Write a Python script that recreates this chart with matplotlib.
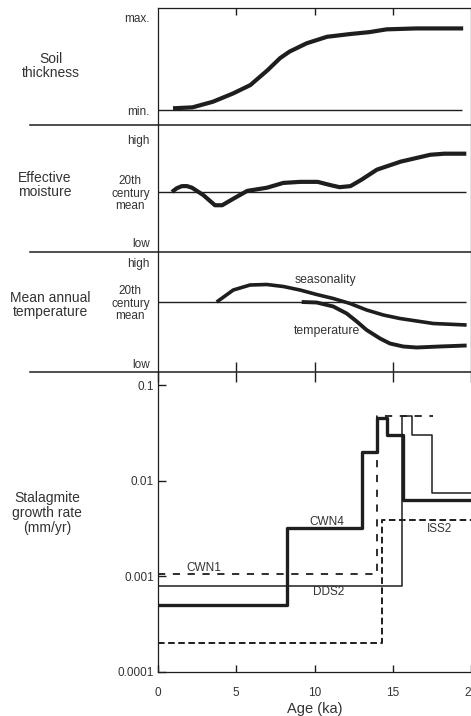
import matplotlib
matplotlib.use('Agg')
import matplotlib.pyplot as plt
from matplotlib.lines import Line2D
from matplotlib.ticker import FixedLocator, NullLocator

plt.rcParams['font.family'] = ['Liberation Sans', 'DejaVu Sans']

# --- data (age in ka) ---
soil_age = [0.96, 2.2, 3.5, 4.8, 5.9, 7.0, 7.8, 8.4, 9.5, 10.8, 12.3, 13.5, 14.6, 16.5, 19.5]
soil_val = [0.02, 0.03, 0.09, 0.18, 0.27, 0.43, 0.56, 0.63, 0.72, 0.79, 0.82, 0.84, 0.87, 0.88, 0.88]

moist_age = [0.89, 1.2, 1.53, 1.85, 2.17, 2.9, 3.64, 4.1, 4.8, 5.7, 6.97, 8.0, 9.1, 10.2,
             11.0, 11.6, 12.3, 13.0, 13.99, 15.5, 17.4, 18.3, 19.7]
moist_val = [0.0, 0.07, 0.11, 0.11, 0.08, -0.06, -0.25, -0.25, -0.13, 0.02, 0.08, 0.17, 0.19, 0.19,
             0.13, 0.09, 0.11, 0.23, 0.42, 0.57, 0.70, 0.72, 0.72]

season_age = [3.75, 4.81, 5.88, 6.95, 8.01, 9.07, 10.14, 11.2, 12.27, 13.33, 14.4, 15.46, 17.59, 19.72]
season_val = [0.0, 0.24, 0.34, 0.35, 0.31, 0.24, 0.15, 0.07, -0.03, -0.16, -0.26, -0.33, -0.43, -0.46]

temp_age = [9.18, 10.14, 11.2, 12.06, 12.7, 13.33, 14.19, 14.82, 15.67, 16.52, 18.0, 19.72]
temp_val = [0.0, -0.01, -0.09, -0.23, -0.39, -0.56, -0.73, -0.83, -0.89, -0.91, -0.89, -0.87]

# stalagmite growth rates: bin edges (ka) and rates (mm/yr)
cwn4_edges = [0, 8.24, 13.04, 13.99, 14.63, 15.65, 20]
cwn4_rate = [0.0005, 0.0032, 0.020, 0.045, 0.030, 0.0063]
dds2_edges = [0, 15.6, 16.25, 17.5, 20]
dds2_rate = [0.0008, 0.047, 0.030, 0.0075]
cwn1_edges = [0, 14.0, 17.6]
cwn1_rate = [0.00105, 0.047]
iss2_edges = [0, 14.31, 20]
iss2_rate = [0.0002, 0.0039]

age_ticks = [0, 5, 10, 15, 20]
rate_ticks = [0.0001, 0.001, 0.01, 0.1]
rate_labels = ['0.0001', '0.001', '0.01', '0.1']

ink = '#1e1e1e'
txt = '#333333'

W, H = 471, 716
fig = plt.figure(figsize=(W / 100, H / 100), dpi=100)


def panel(top, bottom):
    ax = fig.add_axes([158 / W, 1 - bottom / H, (471 - 158) / W, (bottom - top) / H])
    ax.set_xlim(0, 20)
    for s in ax.spines.values():
        s.set_color(ink)
        s.set_linewidth(0.9)
    ax.tick_params(colors=ink, labelcolor=txt, labelsize=8.5)
    return ax


def steps(ax, edges, rate, **kw):
    ax.plot(edges, rate + [rate[-1]], drawstyle='steps-post', color=ink, **kw)


# panel 1: soil thickness
ax1 = panel(8, 125)
ax1.set_ylim(-0.16, 1.1)
ax1.spines['bottom'].set_visible(False)
ax1.hlines(0, 0, 19.4, color=ink, lw=1.0)
ax1.plot(soil_age, soil_val, color=ink, lw=3.0, solid_capstyle='butt')
ax1.set_yticks([1, 0], ['max.', 'min.'])
ax1.tick_params(axis='y', length=0, pad=6)
ax1.xaxis.set_major_locator(FixedLocator([5, 10, 15]))
ax1.tick_params(axis='x', direction='in', top=True, bottom=False, labelbottom=False, length=5, width=1)

# panel 2: effective moisture
ax2 = panel(125, 252)
ax2.set_ylim(-1.13, 1.26)
ax2.spines['top'].set_visible(False)
ax2.spines['bottom'].set_visible(False)
ax2.hlines(0, 0, 19.7, color=ink, lw=1.0)
ax2.plot(moist_age, moist_val, color=ink, lw=3.0, solid_capstyle='butt')
ax2.set_yticks([0.98, 0, -0.96], ['high', '20th\ncentury\nmean', 'low'])
ax2.set_xticks([])

# panel 3: mean annual temperature
ax3 = panel(252, 372)
ax3.set_ylim(-1.4, 1.0)
ax3.spines['top'].set_visible(False)
ax3.spines['bottom'].set_visible(False)
ax3.hlines(0, 0, 19.7, color=ink, lw=1.0)
ax3.plot(season_age, season_val, color=ink, lw=2.6, solid_capstyle='butt')
ax3.plot(temp_age, temp_val, color=ink, lw=2.8, solid_capstyle='butt')
ax3.text(10.7, 0.44, 'seasonality', fontsize=8.8, color=txt, ha='center', va='center')
ax3.text(10.8, -0.58, 'temperature', fontsize=8.8, color=txt, ha='center', va='center')
ax3.set_yticks([0.8, 0, -1.24], ['high', '20th\ncentury\nmean', 'low'])
ax3.xaxis.set_major_locator(FixedLocator([5, 10, 15]))
ax3.tick_params(axis='x', direction='in', length=7, width=1, labelbottom=False)

for ax in (ax2, ax3):
    ax.tick_params(axis='y', length=0, pad=6)
    for lbl in ax.get_yticklabels():
        lbl.set_multialignment('center')
        lbl.set_linespacing(1.05)

# panel 4: stalagmite growth rate
ax4 = panel(372, 672)
ax4.set_yscale('log')
ax4.set_ylim(0.0001, 0.1368)
ax4.spines['top'].set_visible(False)
ax4.spines['right'].set_visible(False)
steps(ax4, dds2_edges, dds2_rate, lw=1.1)
steps(ax4, cwn1_edges, cwn1_rate, lw=1.3, dashes=(4.0, 4.2))
steps(ax4, iss2_edges, iss2_rate, lw=1.4, dashes=(3.4, 1.8))
steps(ax4, cwn4_edges, cwn4_rate, lw=2.4)
ax4.yaxis.set_major_locator(FixedLocator(rate_ticks))
ax4.set_yticklabels(rate_labels)
ax4.yaxis.set_minor_locator(NullLocator())
ax4.tick_params(axis='y', direction='in', length=6, width=1, pad=3)
ax4.set_xticks(age_ticks)
ax4.tick_params(axis='x', direction='in', length=5, width=1, top=True, pad=11)
ax4.tick_params(axis='x', which='major', labelsize=8.5)
ax4.set_xlabel('Age (ka)', fontsize=10.5, color=txt, labelpad=2)
for name, x, y in [('CWN4', 10.8, 0.0037), ('ISS2', 18.0, 0.0031),
                   ('CWN1', 2.9, 0.00122), ('DDS2', 10.9, 0.00068)]:
    ax4.text(x, y, name, fontsize=8.5, color=txt, ha='center', va='center')

# top ticks of panel 4 are longer than the bottom ones
for t in ax4.xaxis.get_major_ticks():
    t.tick2line.set_markersize(7)

# separators across the whole figure
for y in (125, 252, 372):
    fig.add_artist(Line2D([30 / W, 1], [1 - y / H, 1 - y / H], color=ink, lw=1.1))

# row titles
side = [('Soil\nthickness', 51, 66), ('Effective\nmoisture', 45, 185),
        ('Mean annual\ntemperature', 50, 305), ('Stalagmite\ngrowth rate\n(mm/yr)', 47, 513)]
for s, x, y in side:
    fig.text(x / W, 1 - y / H, s, fontsize=10, color=txt, ha='center', va='center',
             multialignment='center', linespacing=1.05)

fig.savefig('out.png', dpi=100)
